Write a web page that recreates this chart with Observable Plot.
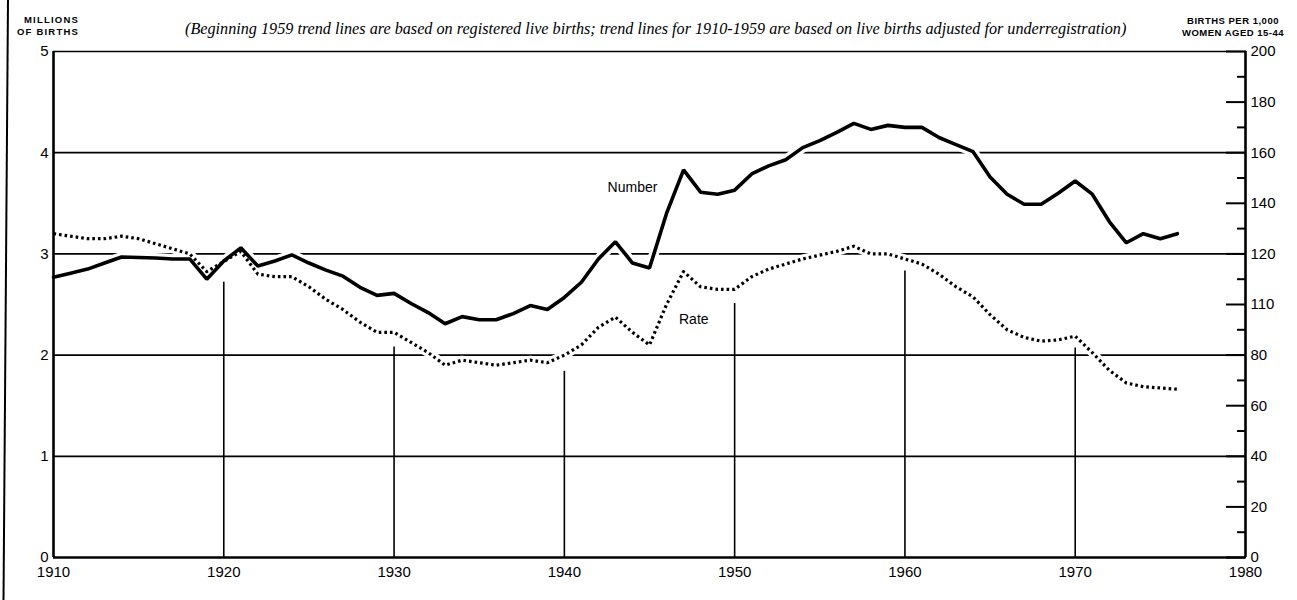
<!DOCTYPE html>
<html><head><meta charset="utf-8">
<script src="https://cdn.jsdelivr.net/npm/d3@7"></script>
<script src="https://cdn.jsdelivr.net/npm/@observablehq/plot@0.6"></script>
<style>
html,body{margin:0;padding:0;background:#fff;}
#wrap{position:relative;width:1297px;height:600px;overflow:hidden;background:#fff;}
.unit{position:absolute;font-family:"Liberation Sans",Arial,sans-serif;font-weight:bold;font-size:9.5px;line-height:12px;color:#000;white-space:nowrap;}
#sub{position:absolute;left:185px;top:20px;white-space:nowrap;font-family:"Liberation Serif","Times New Roman",serif;font-style:italic;font-size:16.2px;line-height:18px;color:#000;}
#border{position:absolute;left:0;top:0;}
</style>
</head><body>
<div id="wrap">
<div id="chart"></div>
<div class="unit" style="right:1218px;top:14px;text-align:right;letter-spacing:1.2px;">MILLIONS<br>OF BIRTHS</div>
<div class="unit" style="left:1176px;top:15px;width:114px;text-align:center;letter-spacing:0.5px;">BIRTHS PER 1,000<br>WOMEN AGED 15-44</div>
<div id="sub">(Beginning 1959 trend lines are based on registered live births; trend lines for 1910-1959 are based on live births adjusted for underregistration)</div>
<svg id="border" width="12" height="600"><line x1="8" y1="0" x2="3.5" y2="600" stroke="#000" stroke-width="2"/></svg>
</div>
<script>
// ---- data ----
const years = [1910,1911,1912,1913,1914,1915,1916,1917,1918,1919,
  1920,1921,1922,1923,1924,1925,1926,1927,1928,1929,
  1930,1931,1932,1933,1934,1935,1936,1937,1938,1939,
  1940,1941,1942,1943,1944,1945,1946,1947,1948,1949,
  1950,1951,1952,1953,1954,1955,1956,1957,1958,1959,
  1960,1961,1962,1963,1964,1965,1966,1967,1968,1969,
  1970,1971,1972,1973,1974,1975,1976];
// Number of births, millions
const births = [2.77,2.81,2.85,2.91,2.97,2.965,2.96,2.95,2.95,2.75,
  2.93,3.06,2.88,2.93,2.99,2.91,2.84,2.78,2.67,2.59,
  2.61,2.51,2.42,2.31,2.38,2.35,2.35,2.41,2.49,2.45,
  2.57,2.72,2.95,3.12,2.91,2.86,3.40,3.83,3.61,3.59,
  3.63,3.79,3.87,3.93,4.05,4.12,4.20,4.29,4.23,4.27,
  4.25,4.25,4.15,4.08,4.01,3.76,3.59,3.49,3.49,3.60,
  3.72,3.59,3.32,3.11,3.20,3.15,3.20];
// Fertility rate, births per 1,000 women aged 15-44
const rate = [128,127,126,126,127,126,124,122,120,113,
  117,121,112,111,111,107,102,98,93,89,
  89,85,81,76,78,77,76,77,78,77,
  80,84,91,95,89,84,100,113,107,106,
  106,111,114,116,118,119.5,121,123,120,120,
  118,116,112,107,103,96,90,87,85.5,86,
  87.5,81,74,69,67.5,67,66.5];
const xTicks = [1910,1920,1930,1940,1950,1960,1970,1980];
const leftTicks = [0,1,2,3,4,5];
const gridY = [1,2,3,4];
const gridDecades = [1920,1930,1940,1950,1960,1970];
const gridTop = [2.72,2.08,1.84,2.51,2.83,2.07];
const rateMajor = [0,20,40,60,80,100,120,140,160,180,200];
const rateMajorLabels = ["0","20","40","60","80","110","120","140","160","180","200"];
const rateMinor = [10,30,50,70,90,110,130,150,170,190];
const rateScale = 40; // rate units per million births on the shared axis
const seriesLabels = ["Number","Rate"];
const seriesLabelYear = [1944.0,1947.6];
const seriesLabelValue = [3.66,2.35];

// ---- tables ----
const numData = years.map((y,i)=>({year:y, v:births[i]}));
const rateData = years.map((y,i)=>({year:y, v:rate[i]/rateScale}));
const vGrid = gridDecades.map((d,i)=>({year:d, top:gridTop[i]}));
const labelData = seriesLabels.map((t,i)=>({t, x:seriesLabelYear[i], y:seriesLabelValue[i]}));
const rateLabelMap = new Map(rateMajor.map((r,i)=>[r, rateMajorLabels[i]]));

const chart = Plot.plot({
  width:1297, height:600,
  marginLeft:53, marginRight:52, marginTop:51, marginBottom:43,
  x:{domain:[1910,1980]},
  y:{domain:[0,5]},
  style:{fontFamily:"'Liberation Sans', Arial, sans-serif", fontSize:"15px", color:"#000", background:"transparent"},
  marks:[
    Plot.ruleY(gridY, {stroke:"#000", strokeWidth:1.8}),
    Plot.ruleX(vGrid, {x:"year", y1:0, y2:"top", stroke:"#000", strokeWidth:1.6}),
    // white halos where curves cross the rules
    Plot.line(rateData, {x:"year", y:"v", stroke:"#fff", strokeWidth:9}),
    Plot.line(numData, {x:"year", y:"v", stroke:"#fff", strokeWidth:10}),
    // frame
    Plot.ruleY([5], {stroke:"#000", strokeWidth:1.6}),
    Plot.ruleY([0], {stroke:"#000", strokeWidth:2.6}),
    Plot.ruleX([1910,1980], {stroke:"#000", strokeWidth:2.6}),
    // series
    Plot.line(rateData, {x:"year", y:"v", stroke:"#000", strokeWidth:3.2, strokeDasharray:"2.6,3", strokeLinecap:"butt"}),
    Plot.line(numData, {x:"year", y:"v", stroke:"#000", strokeWidth:3.6, strokeLinejoin:"miter"}),
    Plot.text(labelData, {x:"x", y:"y", text:"t", fontSize:14, fill:"#000"}),
    // axes
    Plot.axisX({ticks:xTicks, tickSize:0, tickPadding:9, tickFormat:d=>String(d), fontSize:15}),
    Plot.axisY({anchor:"left", ticks:leftTicks, tickSize:0, tickPadding:5, tickFormat:d=>String(d), fontSize:15, label:null}),
    Plot.axisY({anchor:"right", ticks:rateMajor.map(r=>r/rateScale), tickSize:-20, tickPadding:25, strokeWidth:2,
      tickFormat:d=>rateLabelMap.get(Math.round(d*rateScale)), fontSize:15, label:null}),
    Plot.axisY({anchor:"right", ticks:rateMinor.map(r=>r/rateScale), tickSize:-9, tickPadding:0, strokeWidth:2,
      tickFormat:()=>"", label:null})
  ]
});
document.getElementById("chart").appendChild(chart);
</script>
</body></html>
